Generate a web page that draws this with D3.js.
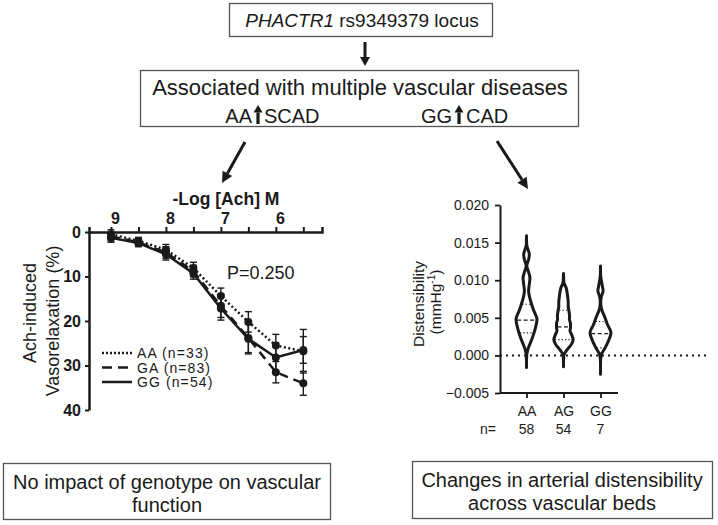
<!DOCTYPE html>
<html><head><meta charset="utf-8">
<script src="https://cdn.jsdelivr.net/npm/d3@7"></script>
<style>
body{margin:0;background:#fff;}
text{font-family:"Liberation Sans",Arial,sans-serif;fill:#1a1a1a;}
</style>
</head><body>
<svg id="c" width="718" height="525"></svg>
<script>
// ---------- data ----------
const logConc = [9, 8.5, 8, 7.5, 7, 6.5, 6, 5.5];
const xTickVals = [9, 8.5, 8, 7.5, 7, 6.5, 6, 5.5];
const yTickVals = [0, 10, 20, 30, 40];
const genotypes = ["AA", "GA", "GG"];
const genotypeN = [33, 83, 54];
const aaMean = [0.5, 2.0, 4.0, 8.1, 14.4, 20.2, 25.5, 26.8];
const aaErr  = [1.0, 0.8, 1.2, 1.3, 1.8, 2.3, 2.5, 4.9];
const gaMean = [1.0, 2.3, 4.6, 8.8, 16.6, 23.8, 31.5, 34.0];
const gaErr  = [1.0, 0.8, 1.3, 1.3, 2.6, 3.3, 2.4, 2.7];
const ggMean = [1.3, 2.5, 5.0, 9.3, 17.2, 24.0, 28.2, 26.5];
const ggErr  = [1.0, 0.8, 1.3, 1.3, 2.6, 3.4, 3.3, 3.0];
const pValue = "P=0.250";

const violinCats = ["AA", "AG", "GG"];
const violinN = [58, 54, 7];
const violinTicks = [-0.005, 0, 0.005, 0.010, 0.015, 0.020];
// density profiles (value, relative density)
const aaVals = [-0.0016,-0.0011,0,0.0008,0.0021,0.0035,0.0048,0.0059,0.0072,0.0086,0.0096,0.0103,0.0111,0.0119,0.0127,0.0134,0.0141,0.0147,0.0159];
const aaDens = [0,0,0.02,0.13,0.5,0.82,1.0,0.71,0.4,0.2,0.28,0.33,0.19,0.03,0.19,0.27,0.14,0.02,0];
const agVals = [-0.0015,-0.0012,0,0.0006,0.0015,0.0021,0.0028,0.0033,0.0037,0.0043,0.0048,0.0052,0.006,0.0065,0.007,0.0081,0.009,0.0097,0.0109];
const agDens = [0,0,0.03,0.26,0.76,0.92,0.76,0.62,0.67,0.66,0.56,0.58,0.51,0.45,0.45,0.37,0.25,0.04,0];
const ggVals = [-0.0025,-0.001,0,0.001,0.0019,0.003,0.0041,0.005,0.0061,0.007,0.0077,0.0086,0.0092,0.0108,0.0119];
const ggDens = [0,0,0.06,0.44,0.75,1.0,0.66,0.43,0.12,0.02,0.06,0.25,0.18,0.01,0];
const violinMedian = [0.0047, 0.0038, 0.0029];
const violinQ1 = [0.0030, 0.0021, 0.0010];
const violinQ3 = [0.0068, 0.0060, 0.0045];

// ---------- drawing ----------
const svg = d3.select("#c");
const ink = "#1a1a1a";

function arrow(x1, y1, x2, y2, hl, hw, sw) {
  const a = Math.atan2(y2 - y1, x2 - x1);
  const bx = x2 - hl * Math.cos(a), by = y2 - hl * Math.sin(a);
  svg.append("line").attr("x1", x1).attr("y1", y1).attr("x2", bx).attr("y2", by)
    .attr("stroke", ink).attr("stroke-width", sw);
  const px = -Math.sin(a) * hw / 2, py = Math.cos(a) * hw / 2;
  svg.append("path").attr("d", `M${x2},${y2}L${bx + px},${by + py}L${bx - px},${by - py}Z`).attr("fill", ink);
}

// top box
svg.append("rect").attr("x", 229.5).attr("y", 3.5).attr("width", 263).attr("height", 33)
  .attr("fill", "none").attr("stroke", "#555").attr("stroke-width", 1.3);
const t1 = svg.append("text").attr("x", 362).attr("y", 26.5).attr("text-anchor", "middle").attr("font-size", 19);
t1.append("tspan").attr("font-style", "italic").text("PHACTR1");
t1.append("tspan").text(" rs9349379 locus");
arrow(365, 42, 365, 66, 9, 10, 3);

// second box
svg.append("rect").attr("x", 140.5).attr("y", 70.5).attr("width", 438).attr("height", 56)
  .attr("fill", "none").attr("stroke", "#555").attr("stroke-width", 1.3);
svg.append("text").attr("x", 360).attr("y", 95).attr("text-anchor", "middle").attr("font-size", 22)
  .text("Associated with multiple vascular diseases");
svg.append("text").attr("x", 252).attr("y", 123).attr("text-anchor", "end").attr("font-size", 20).text("AA");
arrow(258, 124, 258, 105, 7.5, 9, 3.2);
svg.append("text").attr("x", 264).attr("y", 123).attr("font-size", 20).text("SCAD");
svg.append("text").attr("x", 452).attr("y", 123).attr("text-anchor", "end").attr("font-size", 20).text("GG");
arrow(459, 124, 459, 105, 7.5, 9, 3.2);
svg.append("text").attr("x", 466).attr("y", 123).attr("font-size", 20).text("CAD");

// diagonal arrows
arrow(245, 142, 222, 183, 11, 11, 3);
arrow(497, 141, 528, 189, 11, 11, 3);

// ---------- left chart ----------
const x = d3.scaleLinear().domain([9.4, 5.16]).range([89, 322]);
const y = d3.scaleLinear().domain([0, 40]).range([232, 410]);
const gL = svg.append("g");

const xAxis = d3.axisTop(x).tickValues(xTickVals).tickSize(5).tickPadding(3)
  .tickFormat(d => Number.isInteger(d) ? d : "");
const gx = gL.append("g").attr("transform", `translate(0,${y(0)})`).call(xAxis);
gx.select(".domain").attr("stroke", ink).attr("stroke-width", 2.5);
gx.selectAll(".tick line").attr("stroke", ink).attr("stroke-width", 2);
gx.selectAll(".tick text").attr("font-size", 16).attr("font-weight", "bold").attr("dx", 4)
  .attr("font-family", "Liberation Sans, Arial, sans-serif").attr("fill", ink);

const yAxis = d3.axisLeft(y).tickValues(yTickVals).tickSize(4).tickPadding(4).tickSizeOuter(0);
const gy = gL.append("g").attr("transform", `translate(${x(9.4)},0)`).call(yAxis);
gy.select(".domain").attr("stroke", ink).attr("stroke-width", 2.5);
gy.selectAll(".tick line").attr("stroke", ink).attr("stroke-width", 2);
gy.selectAll(".tick text").attr("font-size", 16).attr("font-weight", "bold")
  .attr("font-family", "Liberation Sans, Arial, sans-serif").attr("fill", ink);

gL.append("text").attr("x", 226).attr("y", 205).attr("text-anchor", "middle")
  .attr("font-size", 17.5).attr("font-weight", "bold").text("-Log [Ach] M");
gL.append("text").attr("transform", "translate(36,313) rotate(-90)").attr("text-anchor", "middle")
  .attr("font-size", 18).text("Ach-induced");
gL.append("text").attr("transform", "translate(59,321) rotate(-90)").attr("text-anchor", "middle")
  .attr("font-size", 18).text("Vasorelaxation (%)");
gL.append("text").attr("x", 227).attr("y", 278.5).attr("font-size", 18).text(pValue);

const series = [
  {name: genotypes[0], n: genotypeN[0], mean: aaMean, err: aaErr, dash: "2,2.5"},
  {name: genotypes[1], n: genotypeN[1], mean: gaMean, err: gaErr, dash: "9,6"},
  {name: genotypes[2], n: genotypeN[2], mean: ggMean, err: ggErr, dash: null}
];
const line = d3.line().x(d => x(d[0])).y(d => y(d[1]));
series.forEach(s => {
  const pts = logConc.map((c, i) => [c, s.mean[i], s.err[i]]);
  pts.forEach(p => {
    const cx = x(p[0]);
    gL.append("line").attr("x1", cx).attr("x2", cx).attr("y1", y(p[1] - p[2])).attr("y2", y(p[1] + p[2]))
      .attr("stroke", ink).attr("stroke-width", 1.4);
    [p[1] - p[2], p[1] + p[2]].forEach(v => gL.append("line").attr("x1", cx - 3.5).attr("x2", cx + 3.5)
      .attr("y1", y(v)).attr("y2", y(v)).attr("stroke", ink).attr("stroke-width", 1.4));
  });
  gL.append("path").datum(pts).attr("d", line).attr("fill", "none").attr("stroke", ink)
    .attr("stroke-width", 2.5).attr("stroke-dasharray", s.dash);
  gL.selectAll(null).data(pts).enter().append("circle")
    .attr("cx", d => x(d[0])).attr("cy", d => y(d[1])).attr("r", 4).attr("fill", ink);
});
// legend
series.forEach((s, i) => {
  const ly = 353 + i * 14.5;
  gL.append("line").attr("x1", 102).attr("x2", 132).attr("y1", ly).attr("y2", ly)
    .attr("stroke", ink).attr("stroke-width", 2.5).attr("stroke-dasharray", i === 0 ? "2,2" : (i === 1 ? "10,6" : null));
  gL.append("text").attr("x", 137).attr("y", ly + 5).attr("font-size", 14).attr("letter-spacing", 1.1)
    .text(`${s.name} (n=${s.n})`);
});

// ---------- right chart ----------
const vy = d3.scaleLinear().domain([-0.005, 0.020]).range([393, 205]);
const vx = d3.scalePoint().domain(violinCats).range([526.5, 600.5]);
const wScale = d3.scaleLinear().domain([0, 1]).range([0, 10.5]);
const gR = svg.append("g");

const vyAxis = d3.axisLeft(vy).tickValues(violinTicks).tickSize(5).tickPadding(6).tickSizeOuter(0)
  .tickFormat(d3.format(".3f"));
const gvy = gR.append("g").attr("transform", "translate(500,0)").call(vyAxis);
gvy.select(".domain").attr("stroke", ink).attr("stroke-width", 2);
gvy.selectAll(".tick line").attr("stroke", ink).attr("stroke-width", 1.8);
gvy.selectAll(".tick text").attr("font-size", 14).attr("font-family", "Liberation Sans, Arial, sans-serif").attr("fill", ink);

const vxAxis = d3.axisBottom(vx).tickSize(5).tickPadding(8).tickSizeOuter(0);
const gvx = gR.append("g").attr("transform", `translate(0,${vy(-0.005)})`).call(vxAxis);
gvx.select(".domain").attr("d", `M500,0H618`).attr("stroke", ink).attr("stroke-width", 2);
gvx.selectAll(".tick line").attr("stroke", ink).attr("stroke-width", 1.8);
gvx.selectAll(".tick text").attr("font-size", 14).attr("font-family", "Liberation Sans, Arial, sans-serif").attr("fill", ink);
gR.append("text").attr("x", 488).attr("y", 434).attr("text-anchor", "middle").attr("font-size", 14).text("n=");
violinCats.forEach((c, i) => gR.append("text").attr("x", vx(c)).attr("y", 434).attr("text-anchor", "middle")
  .attr("font-size", 14).text(violinN[i]));

gR.append("line").attr("x1", 500).attr("x2", 710).attr("y1", vy(0)).attr("y2", vy(0))
  .attr("stroke", ink).attr("stroke-width", 2).attr("stroke-dasharray", "2,4");

const profiles = [[aaVals, aaDens], [agVals, agDens], [ggVals, ggDens]];
profiles.forEach((p, i) => {
  const cx = vx(violinCats[i]);
  const pts = p[0].map((v, j) => ({v, d: p[1][j]}));
  const area = d3.area().curve(d3.curveMonotoneY)
    .y(d => vy(d.v)).x0(d => cx - wScale(d.d)).x1(d => cx + wScale(d.d));
  const dAt = d3.scaleLinear().domain(p[0]).range(p[1]);
  [[violinQ1[i], "1.2,2.2", 1.1], [violinMedian[i], "4,2.5", 1.3], [violinQ3[i], "1.2,2.2", 1.1]].forEach(q => {
    const hw = wScale(dAt(q[0])) - 1;
    gR.append("line").attr("x1", cx - hw).attr("x2", cx + hw).attr("y1", vy(q[0])).attr("y2", vy(q[0]))
      .attr("stroke", ink).attr("stroke-width", q[2]).attr("stroke-dasharray", q[1]);
  });
  gR.append("path").datum(pts).attr("d", area).attr("fill", "none").attr("stroke", ink)
    .attr("stroke-width", 3).attr("stroke-linejoin", "round");
});

gR.append("text").attr("transform", "translate(424,304) rotate(-90)").attr("text-anchor", "middle")
  .attr("font-size", 15.5).text("Distensibility");
const vlab2 = gR.append("text").attr("transform", "translate(441,302) rotate(-90)").attr("text-anchor", "middle").attr("font-size", 15.5);
vlab2.append("tspan").text("(mmHg");
vlab2.append("tspan").attr("font-size", 10).attr("dy", -6).text("-1");
vlab2.append("tspan").attr("dy", 6).text(")");

// ---------- bottom boxes ----------
svg.append("rect").attr("x", 3.5).attr("y", 463.5).attr("width", 327).attr("height", 56)
  .attr("fill", "none").attr("stroke", "#555").attr("stroke-width", 1.3);
svg.append("text").attr("x", 167).attr("y", 489).attr("text-anchor", "middle").attr("font-size", 20)
  .text("No impact of genotype on vascular");
svg.append("text").attr("x", 167).attr("y", 512).attr("text-anchor", "middle").attr("font-size", 20)
  .text("function");
svg.append("rect").attr("x", 412.5).attr("y", 461.5).attr("width", 300).attr("height", 57)
  .attr("fill", "none").attr("stroke", "#555").attr("stroke-width", 1.3);
svg.append("text").attr("x", 562).attr("y", 487).attr("text-anchor", "middle").attr("font-size", 20)
  .text("Changes in arterial distensibility");
svg.append("text").attr("x", 562).attr("y", 510).attr("text-anchor", "middle").attr("font-size", 20)
  .text("across vascular beds");
</script>
</body></html>
